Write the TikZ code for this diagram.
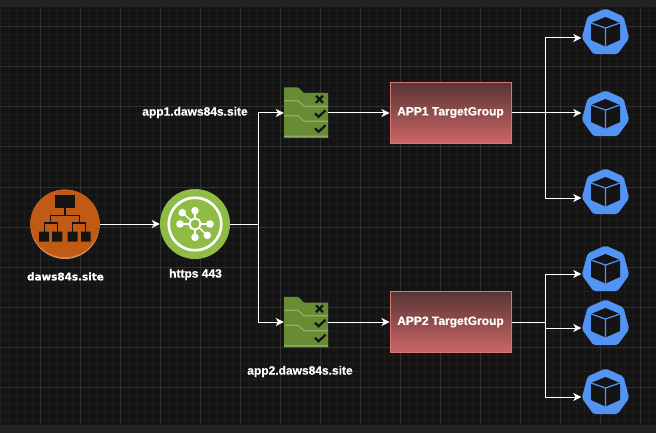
\documentclass[tikz,border=0pt]{standalone}
\usepackage{fontspec}
\setmainfont[BoldFeatures={FakeBold=0.5}]{Liberation Sans}
\newfontfamily\widefont[BoldFeatures={FakeBold=0.8}]{DejaVu Sans}
\usetikzlibrary{arrows.meta,shadings}
\definecolor{bgdark}{HTML}{141414}
\definecolor{bandgray}{HTML}{222222}
\definecolor{gridminor}{HTML}{1C1C1C}
\definecolor{gridmajor}{HTML}{303030}
\definecolor{orangemain}{HTML}{C05A14}
\definecolor{orangerim}{HTML}{D98A58}
\definecolor{greenmain}{HTML}{8FBC45}
\definecolor{foldergreen}{HTML}{688C34}
\definecolor{folderline}{HTML}{92AC6C}
\definecolor{podblue}{HTML}{5294F4}
\definecolor{cubedark}{HTML}{141414}
\definecolor{tgtop}{HTML}{5A3434}
\definecolor{tgbottom}{HTML}{CC6666}
\definecolor{tgborder}{HTML}{DD7777}
\tikzset{
  x=1pt,y=-1pt,
  wire/.style={draw=white,line width=1pt},
  link/.style={wire,-{Stealth[length=8pt,width=8pt,inset=2.2pt]}},
  lbl/.style={text=white,font=\fontsize{12}{14}\selectfont\bfseries,inner sep=0pt},
  widelbl/.style={text=white,font=\widefont\fontsize{10.4}{13}\selectfont\bfseries,inner sep=0pt},
  tgbox/.style={draw=tgborder,line width=1pt,top color=tgtop,bottom color=tgbottom,
    minimum width=121pt,minimum height=61pt,inner sep=0pt},
  anchorbox/.style={inner sep=0pt,minimum width=#1,minimum height=46pt},
}
% Kubernetes pod glyph, relative to the point 29px below its top
\newcommand{\podglyph}[1]{%
  \begin{scope}[shift={(#1)}]
    \fill[podblue,rounded corners=2pt] (0,-29.5) -- (18,-21.5) -- (23.7,0) -- (12,16.2) -- (-12,16.2) -- (-23.7,0) -- (-18,-21.5) -- cycle;
    \fill[cubedark] (0,-21) -- (14.5,-15) -- (14.5,2) -- (0,8.5) -- (-14.5,2) -- (-14.5,-15) -- cycle;
    \draw[podblue,line width=1.2pt] (-14.5,-15) -- (0,-10) -- (14.5,-15) (0,-10) -- (0,8.5);
  \end{scope}}
% Folder glyph, relative to its top-left corner
\newcommand{\folderglyph}[1]{%
  \begin{scope}[shift={(#1)}]
    \fill[foldergreen] (0,0) -- (14,0) -- (20,5.7) -- (44,5.7) -- (44,50.5) -- (0,50.5) -- cycle;
    \draw[folderline,line width=1.2pt] (0,13.5) -- (14,13.5) -- (20,19) -- (44,19)
      (0,28.5) -- (14,28.5) -- (20,34) -- (44,34) (0,49) -- (44,49);
    \draw[cubedark,line width=2.2pt] (32,8.5) -- (39,15.5) (39,8.5) -- (32,15.5);
    \draw[cubedark,line width=2.2pt] (31,26) -- (34.5,29.5) -- (41.5,23);
    \draw[cubedark,line width=2.2pt] (31,41) -- (34.5,44.5) -- (41.5,38);
  \end{scope}}
\begin{document}
\begin{tikzpicture}
\useasboundingbox (0,0) rectangle (656,433);
% canvas
\fill[bandgray] (0,0) rectangle (656,433);
\fill[bgdark] (1,7) rectangle (656,425);
\foreach \gx in {8,16,...,648} \draw[gridminor,line width=1pt] (\gx,7) -- (\gx,425);
\foreach \gy in {11,19,...,419} \draw[gridminor,line width=1pt] (1,\gy) -- (656,\gy);
\foreach \gx in {40,80,...,640} \draw[gridmajor,line width=1pt] (\gx,7) -- (\gx,425);
\foreach \gy in {27,67,...,419} \draw[gridmajor,line width=1pt] (1,\gy) -- (656,\gy);

% node frames
\node[circle,minimum size=70pt,inner sep=0pt] (dns) at (65,224) {};
\node[circle,minimum size=70pt,inner sep=0pt] (alb) at (195,224) {};
\node[minimum width=44pt,minimum height=51pt,inner sep=0pt] (rule1) at (306,113) {};
\node[minimum width=44pt,minimum height=51pt,inner sep=0pt] (rule2) at (306,322) {};
\coordinate (split) at (258,224);
\coordinate (tgsplit1) at (545,113);
\coordinate (tgsplit2) at (545,322);
\node[tgbox] (tg1) at (450.5,113) {};
\node[tgbox] (tg2) at (450.5,322) {};
\node[anchorbox=48pt] (pod1) at (605.5,38) {};
\node[anchorbox=48pt] (pod2) at (605.5,113) {};
\node[anchorbox=48pt] (pod3) at (605.5,198) {};
\node[anchorbox=48pt] (pod4) at (605.5,274) {};
\node[anchorbox=48pt] (pod5) at (605.5,328) {};
\node[anchorbox=48pt] (pod6) at (605.5,397) {};

% connectors
\draw[link] (dns.east) -- (alb.west);
\draw[wire] (alb.east) -- (split);
\draw[link] (split) |- (rule1.west);
\draw[link] (split) |- (rule2.west);
\draw[link] (rule1.east) -- (tg1.west);
\draw[link] (rule2.east) -- (tg2.west);
\draw[wire] (tg1.east) -- (tgsplit1);
\draw[wire] (tg2.east) -- (tgsplit2);
\draw[link] (tgsplit1) |- (pod1.west);
\draw[link] (tgsplit1) -- (pod2.west);
\draw[link] (tgsplit1) |- (pod3.west);
\draw[link] (tgsplit2) |- (pod4.west);
\draw[link] (tgsplit2) |- (pod5.west);
\draw[link] (tgsplit2) |- (pod6.west);

% orange DNS glyph
\begin{scope}
  \fill[orangerim] (65,224.3) circle (34.7);
  \clip (65,224.3) circle (34.7);
  \fill[orangemain] (65,222.5) circle (34.7);
\end{scope}
\fill[cubedark] (55,195.3) rectangle (75,207.7);
\draw[cubedark,line width=1.2pt] (65,207.7) -- (65,215.7) (50.7,223) -- (50.7,215.7) -- (79.3,215.7) -- (79.3,223)
  (44.3,231.7) -- (44.3,223) -- (57.3,223) -- (57.3,231.7)
  (72.7,231.7) -- (72.7,223) -- (85.7,223) -- (85.7,231.7);
\fill[cubedark] (39,231.7) rectangle (49,241.7) (52,231.7) rectangle (62.3,241.7)
  (67.7,231.7) rectangle (77.7,241.7) (81,231.7) rectangle (90.7,241.7);

% green load balancer glyph
\fill[greenmain] (195,224) circle (35);
\draw[white,line width=2.6pt] (195,224) circle (26.3);
\foreach \dx/\dy in {0/-13.3,-12.7/-11.3,-15/0,15/0,12.3/11.3,0/13.3}{
  \draw[white,line width=1.4pt] (195,224) -- ++(\dx,\dy);
  \fill[white] (195,224) ++(\dx,\dy) circle (3.8);
}
\draw[white,line width=2pt,fill=greenmain] (195,224) circle (5.6);

% folders and pods
\folderglyph{284,87.3}
\folderglyph{284,296.8}
\podglyph{605.5,38}
\podglyph{605.5,120}
\podglyph{605.5,198}
\podglyph{605.5,275}
\podglyph{605.5,329}
\podglyph{605.5,398}

% labels
\node[lbl] (tg1label) at (450.5,112.5) {APP1 TargetGroup};
\node[lbl] (tg2label) at (450.5,322) {APP2 TargetGroup};
\node[widelbl] (dnslabel) at (65.5,276.5) {daws84s.site};
\node[lbl] (alblabel) at (195.5,274.5) {https 443};
\node[lbl] (rule1label) at (195,112.5) {app1.daws84s.site};
\node[lbl] (rule2label) at (300,371.5) {app2.daws84s.site};
\end{tikzpicture}
\end{document}
